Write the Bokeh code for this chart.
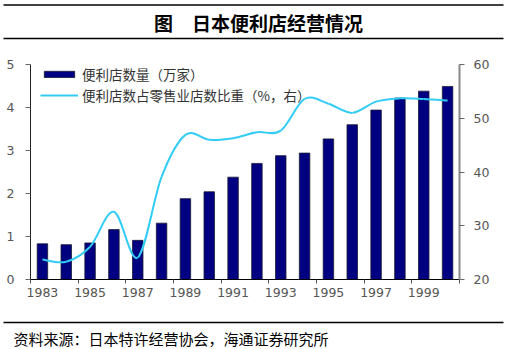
from bokeh.plotting import figure
from bokeh.models import Range1d, LinearAxis, FixedTicker, Legend, LegendItem, ColumnDataSource
from bokeh.embed import file_html
from bokeh.resources import INLINE
from bokeh.core.properties import value

# ---- data ----
years = ["1983", "1984", "1985", "1986", "1987", "1988", "1989", "1990", "1991",
         "1992", "1993", "1994", "1995", "1996", "1997", "1998", "1999", "2000"]
stores = [0.83, 0.81, 0.85, 1.16, 0.91, 1.31, 1.88, 2.04, 2.38,
          2.70, 2.88, 2.94, 3.27, 3.60, 3.94, 4.22, 4.38, 4.49]
share = [23.7, 23.3, 26.1, 32.6, 24.1, 39.1, 46.9, 46.0, 46.3,
         47.4, 47.7, 53.6, 52.7, 51.0, 53.1, 53.7, 53.6, 53.3]
left_ticks = [0, 1, 2, 3, 4, 5]
right_ticks = [20, 30, 40, 50, 60]
title_text = "图　日本便利店经营情况"
source_text = "资料来源：日本特许经营协会，海通证券研究所"
bar_label = "便利店数量（万家）"
line_label = "便利店数占零售业店数比重（%，右）"

W = 517
CJK = "Noto Sans CJK SC"
TICK_FONT = "DejaVu Sans"

# ---- title strip ----
TH = 42
t = figure(width=W, height=TH, x_range=Range1d(0, W), y_range=Range1d(TH, 0),
           x_axis_location=None, y_axis_location=None, toolbar_location=None,
           output_backend="svg", min_border=0, outline_line_color=None)
t.grid.visible = False
t.segment(x0=[3, 3], y0=[4.5, 38], x1=[503, 503], y1=[4.5, 38], line_color="black", line_width=1.4)
t.text(x=[258], y=[22], text=[title_text], text_align="center", text_baseline="middle",
       text_font=value(CJK), text_font_size="19px", text_font_style="bold", text_color="black")

# ---- main chart ----
n = len(years)
xs = [i + 0.5 for i in range(n)]
MH = 274
p = figure(width=W, height=MH, x_range=Range1d(0, n), y_range=Range1d(0, 5),
           x_axis_type=None, y_axis_type=None, toolbar_location=None, output_backend="svg",
           min_border_left=30, min_border_right=58, min_border_top=22, min_border_bottom=37,
           outline_line_color=None)
p.grid.visible = False
p.extra_y_ranges = {"r": Range1d(20, 60)}

src = ColumnDataSource(dict(x=xs, y=stores))
bars = p.vbar(x="x", top="y", width=0.44, source=src, fill_color="#000080",
              line_color="#1a1a33", line_width=0.8)

# smooth curve (Catmull-Rom as cubic Bezier) through the share points
pts = list(zip(xs, share))
x0s, y0s, x1s, y1s, c0x, c0y, c1x, c1y = [], [], [], [], [], [], [], []
for i in range(n - 1):
    pa = pts[i - 1] if i > 0 else pts[i]
    pb = pts[i]
    pc = pts[i + 1]
    pd = pts[i + 2] if i + 2 < n else pts[i + 1]
    x0s.append(pb[0]); y0s.append(pb[1]); x1s.append(pc[0]); y1s.append(pc[1])
    c0x.append(pb[0] + (pc[0] - pa[0]) / 6); c0y.append(pb[1] + (pc[1] - pa[1]) / 6)
    c1x.append(pc[0] - (pd[0] - pb[0]) / 6); c1y.append(pc[1] - (pd[1] - pb[1]) / 6)
LINE_COLOR = "#33CCF5"
curve = p.bezier(x0=x0s, y0=y0s, x1=x1s, y1=y1s, cx0=c0x, cy0=c0y, cx1=c1x, cy1=c1y,
                 line_color=LINE_COLOR, line_width=2, y_range_name="r")

# axes
ax_left = LinearAxis(ticker=FixedTicker(ticks=left_ticks))
ax_right = LinearAxis(y_range_name="r", ticker=FixedTicker(ticks=right_ticks))
for ax, std in ((ax_left, 11), (ax_right, 9)):
    ax.major_tick_in = 0
    ax.major_tick_out = 5
    ax.minor_tick_line_color = None
    ax.major_label_standoff = std
    ax.major_label_text_font = TICK_FONT
    ax.major_label_text_font_size = "12.5px"
    ax.major_label_text_color = "#555555"
    ax.major_tick_line_color = "#666666"
ax_left.axis_line_color = "#222222"
ax_right.axis_line_color = "#888888"
ax_right.axis_line_width = 2
p.add_layout(ax_left, "left")
p.add_layout(ax_right, "right")

ax_ticks = LinearAxis(ticker=FixedTicker(ticks=list(range(0, n + 1, 2))))
ax_ticks.major_label_overrides = {i: "" for i in range(0, n + 1, 2)}
ax_ticks.major_label_text_font_size = "1px"
ax_ticks.major_label_standoff = 0
ax_ticks.major_tick_in = 0
ax_ticks.major_tick_out = 4
ax_ticks.minor_tick_line_color = None
ax_ticks.axis_line_color = "black"
ax_ticks.major_tick_line_color = "#555555"
p.add_layout(ax_ticks, "below")

label_pos = xs[::2]
ax_lab = LinearAxis(ticker=FixedTicker(ticks=label_pos))
ax_lab.major_label_overrides = {xv: yr for xv, yr in zip(label_pos, years[::2])}
ax_lab.axis_line_color = None
ax_lab.major_tick_line_color = None
ax_lab.minor_tick_line_color = None
ax_lab.major_label_standoff = -2
ax_lab.major_label_text_font = TICK_FONT
ax_lab.major_label_text_font_size = "12.5px"
ax_lab.major_label_text_color = "#555555"
p.add_layout(ax_lab, "below")

legend = Legend(items=[LegendItem(label=bar_label, renderers=[bars]),
                       LegendItem(label=line_label, renderers=[curve])],
                location=(10, MH - 22 - 37 - 41), padding=2, margin=0, spacing=1,
                glyph_width=38, glyph_height=8, label_height=18, label_standoff=4,
                label_text_font=CJK, label_text_font_size="13.5px", label_text_color="#333333",
                background_fill_alpha=0, border_line_color=None)
p.add_layout(legend)

# ---- source strip ----
SH = 33
s = figure(width=W, height=SH, x_range=Range1d(0, W), y_range=Range1d(SH, 0),
           x_axis_location=None, y_axis_location=None, toolbar_location=None,
           output_backend="svg", min_border=0, outline_line_color=None)
s.grid.visible = False
s.segment(x0=[3], y0=[6], x1=[503], y1=[6], line_color="black", line_width=1.4)
s.text(x=[13], y=[22], text=[source_text], text_align="left", text_baseline="middle",
       text_font=value(CJK), text_font_size="15px", text_color="black")

open("out.html", "w").write(file_html([t, p, s], INLINE))
